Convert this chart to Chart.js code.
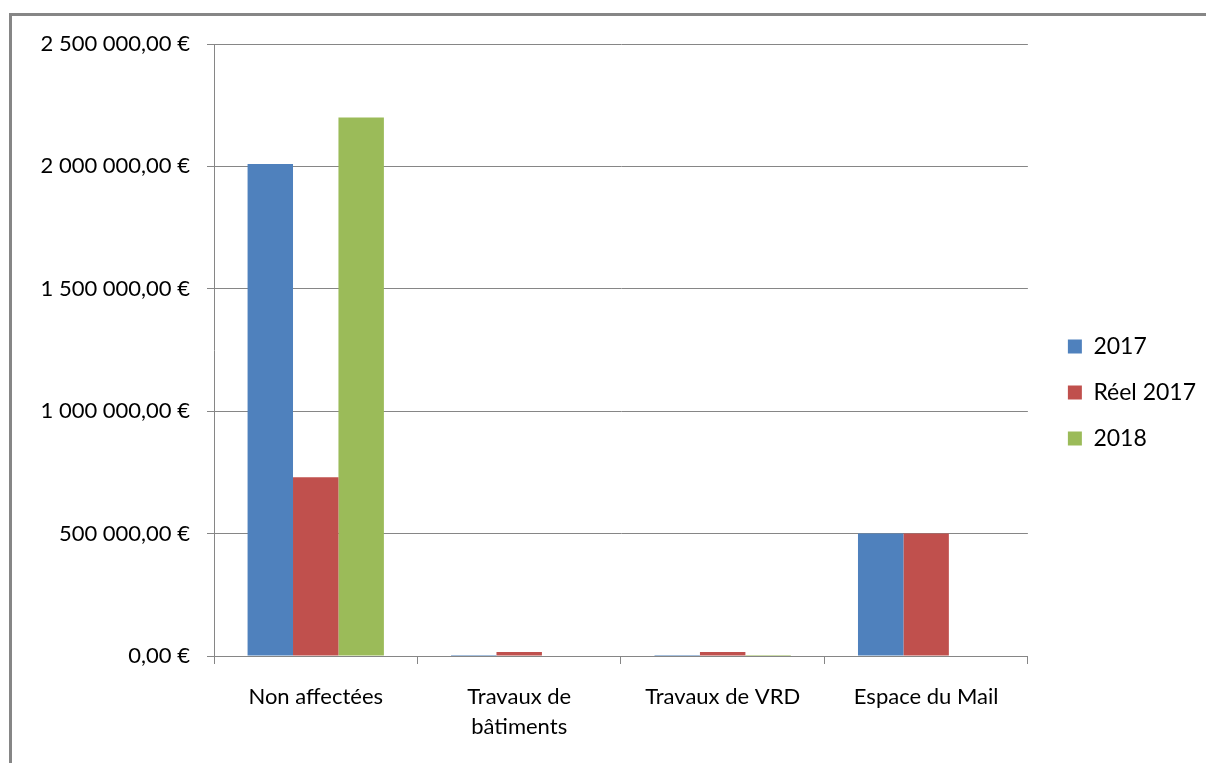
<!DOCTYPE html>
<html>
<head>
<meta charset="utf-8">
<script src="https://cdn.jsdelivr.net/npm/chart.js@4/dist/chart.umd.min.js"></script>
<style>
  html, body { margin: 0; padding: 0; background: #fff; overflow: hidden; }
  #frame {
    position: absolute; left: 9px; top: 13px; width: 1300px; height: 900px;
    border-left: 3px solid #868686; border-top: 3px solid #868686;
  }
  #chart { position: absolute; left: 0; top: 0; }
</style>
</head>
<body>
<div id="frame"></div>
<canvas id="chart" width="1206" height="763"></canvas>
<script>
const categories = ['Non affectées', ['Travaux de', 'bâtiments'], 'Travaux de VRD', 'Espace du Mail'];
const seriesNames = ['2017', 'Réel 2017', '2018'];
const values2017 = [2010000, 4000, 4000, 500000];
const valuesReel2017 = [730000, 16000, 16000, 500000];
const values2018 = [2200000, 0, 4000, 0];
const tickValues = [0, 500000, 1000000, 1500000, 2000000, 2500000];

const colors = ['#4F81BD', '#C0504D', '#9BBB59'];
const gray = '#868686';
const family = 'Lato, "Liberation Sans", sans-serif';

// "2 500 000,00 €"
function euro(v) {
    const s = Math.round(v).toString().replace(/\B(?=(\d{3})+(?!\d))/g, ' ');
    return s + ',00 €';
}

const ctx = document.getElementById('chart').getContext('2d');

new Chart(ctx, {
    type: 'bar',
    data: {
        labels: categories,
        datasets: [values2017, valuesReel2017, values2018].map((vals, i) => ({
            label: seriesNames[i],
            data: vals,
            backgroundColor: colors[i],
            borderWidth: 0,
            categoryPercentage: 0.67,
            barPercentage: 1.0
        }))
    },
    options: {
        responsive: false,
        animation: false,
        layout: { padding: { top: 22, right: 0, bottom: 0, left: 0 } },
        plugins: {
            tooltip: { enabled: false },
            legend: {
                position: 'right',
                align: 'center',
                labels: {
                    boxWidth: 14,
                    boxHeight: 14,
                    padding: 23,
                    color: '#000',
                    font: { family: family, size: 23 }
                }
            }
        },
        scales: {
            x: {
                grid: { drawOnChartArea: false, drawTicks: true, tickLength: 8, color: gray, lineWidth: 1 },
                border: { display: true, color: gray, width: 1 },
                ticks: { color: '#000', font: { family: family, size: 22, lineHeight: 1.36 }, padding: 18, maxRotation: 0, autoSkip: false },
                afterFit: s => { s.height = 763 - 656; }
            },
            y: {
                min: 0,
                max: 2500000,
                afterBuildTicks: s => { s.ticks = tickValues.map(v => ({ value: v })); },
                grid: { color: gray, lineWidth: 1, drawTicks: true, tickLength: 7 },
                border: { display: true, color: gray, width: 1 },
                ticks: { color: '#000', font: { family: family, size: 22 }, padding: 17, callback: v => euro(v) },
                afterFit: s => { s.width = 214; s.paddingTop = 44; }
            },
            gap: {
                position: 'right',
                display: true,
                grid: { display: false },
                border: { display: false },
                ticks: { display: false },
                afterFit: s => { s.width = 17; }
            }
        }
    }
});
</script>
</body>
</html>
